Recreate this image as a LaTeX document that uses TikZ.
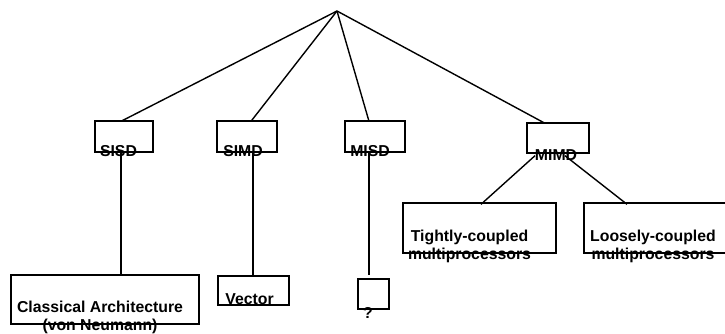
\documentclass[tikz,border=0pt]{standalone}
\usepackage{fontspec}
\setmainfont{Liberation Sans}
\begin{document}
\begin{tikzpicture}[x=1pt,y=-1pt,
  box/.style={draw,line width=1.4pt,inner sep=0pt,minimum width=#1},
  lbl/.style={font=\fontsize{15.8}{18}\selectfont\bfseries,inner sep=0pt,anchor=base,align=center},
  edge/.style={line width=1.4pt}]
\useasboundingbox (0,0) rectangle (725,334);
\clip (0,0) rectangle (725,334);
\coordinate (apex) at (337,11);
% level 1 boxes
\node[box=58,minimum height=31] (sisd) at (124,136.5) {};
\node[box=60,minimum height=31] (simd) at (247,136.5) {};
\node[box=60,minimum height=31] (misd) at (375,136.5) {};
\node[box=62,minimum height=30] (mimd) at (558,138) {};
% level 2 boxes
\node[box=188,minimum height=49] (classical) at (105,299.5) {};
\node[box=71,minimum height=29] (vector) at (253.5,290.5) {};
\node[box=31,minimum height=30] (q) at (373.5,294) {};
\node[box=153,minimum height=50] (tight) at (479.5,228) {};
\node[box=150,minimum height=50] (loose) at (659,228) {};
% connectors
\draw[edge] (apex) -- ([xshift=-3pt,yshift=-1pt]sisd.north);
\draw[edge] (apex) -- ([xshift=4pt,yshift=-1pt]simd.north);
\draw[edge] (apex) -- ([xshift=-6pt,yshift=-1pt]misd.north);
\draw[edge] (apex) -- ([xshift=-13pt,yshift=-1pt]mimd.north);
\draw[edge] ([xshift=-3pt]sisd.south) -- ([xshift=-3pt]sisd.south |- classical.north);
\draw[edge] ([xshift=6pt]simd.south) -- ([xshift=6pt]simd.south |- vector.north);
\draw[edge] ([xshift=-6pt]misd.south) -- ([xshift=-6pt,yshift=3pt]misd.south |- q.north);
\draw[edge] ([xshift=-23pt,yshift=-2pt]mimd.south) -- ([xshift=1.5pt,yshift=-2pt]tight.north);
\draw[edge] ([xshift=7pt,yshift=-2pt]mimd.south) -- ([xshift=-32pt,yshift=-2pt]loose.north);
% labels
\node[lbl] (tsisd) at (118.5,157) {SISD};
\node[lbl] (tsimd) at (243,157) {SIMD};
\node[lbl] (tmisd) at (370,157) {MISD};
\node[lbl] (tmimd) at (556,160) {MIMD};
\node[lbl] (tclassical) at (100,330) {Classical Architecture\\(von Neumann)};
\node[lbl] (tvector) at (249.5,304) {Vector};
\node[lbl] (tq) at (368,318) {?};
\node[lbl] (ttight) at (469.5,259) {Tightly-coupled\\multiprocessors};
\node[lbl] (tloose) at (653,259) {Loosely-coupled\\multiprocessors};
\end{tikzpicture}
\end{document}
